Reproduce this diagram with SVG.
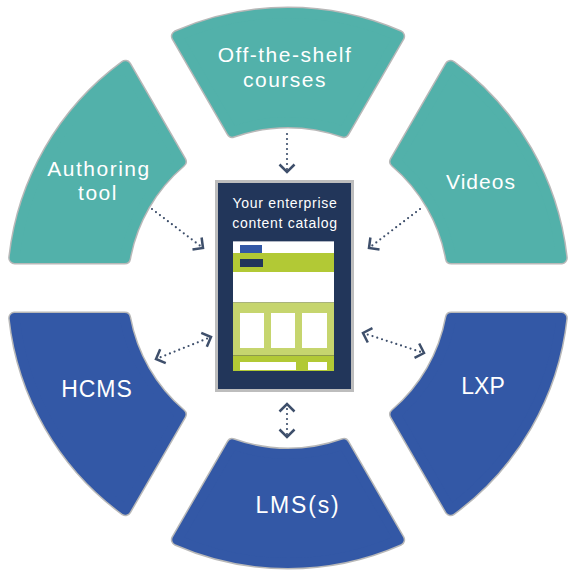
<svg xmlns="http://www.w3.org/2000/svg" xmlns:xlink="http://www.w3.org/1999/xlink" width="575" height="575" viewBox="0 0 575 575">
<style>
.rim{fill:none;stroke:#b8b8b8;stroke-width:13;stroke-linejoin:round}
.teal{fill:#52b1aa;stroke:#52b1aa;stroke-width:10;stroke-linejoin:round}
.blue{fill:#3358a6;stroke:#3358a6;stroke-width:10;stroke-linejoin:round}
.lbl{font-family:"Liberation Sans",Arial,sans-serif;fill:#ffffff;text-anchor:middle}
.s21{font-size:21px;letter-spacing:1.5px}
.s23{font-size:23px;letter-spacing:1px}
.conn{fill:none;stroke:#3e4f6b;stroke-width:2.2;stroke-linecap:round;stroke-dasharray:0 5}
.cat{font-family:"Liberation Sans",Arial,sans-serif;font-size:14px;letter-spacing:0.7px;fill:#ffffff;text-anchor:middle}
</style>
<defs>
<path id="seg" d="M177.30,36.27 A275,275 0 0 1 398.70,36.27 L343.66,131.61 A166,166 0 0 0 232.34,131.61 Z"/>
<marker id="chev" viewBox="-12 -12 24 24" markerWidth="24" markerHeight="24" markerUnits="userSpaceOnUse" orient="auto-start-reverse" refX="0" refY="0">
<path d="M-7.5,-7.5 L0,0 L-7.5,7.5" fill="none" stroke="#3e4f6b" stroke-width="2.5"/>
</marker>
</defs>
<rect width="575" height="575" fill="#ffffff"/>
<g id="node-offtheshelf">
<use xlink:href="#seg" class="rim"/>
<use xlink:href="#seg" class="teal"/>
<text class="lbl s21" x="285" y="62">Off-the-shelf</text>
<text class="lbl s21" x="285" y="87">courses</text>
</g>
<g id="node-videos">
<use xlink:href="#seg" class="rim" transform="rotate(60 288 288)"/>
<use xlink:href="#seg" class="teal" transform="rotate(60 288 288)"/>
<text class="lbl s21" x="481" y="189" style="letter-spacing:1px">Videos</text>
</g>
<g id="node-lxp">
<use xlink:href="#seg" class="rim" transform="rotate(120 288 288)"/>
<use xlink:href="#seg" class="blue" transform="rotate(120 288 288)"/>
<text class="lbl s23" x="483" y="394" style="letter-spacing:0">LXP</text>
</g>
<g id="node-lms">
<use xlink:href="#seg" class="rim" transform="rotate(180 288 288)"/>
<use xlink:href="#seg" class="blue" transform="rotate(180 288 288)"/>
<text class="lbl s23" x="298" y="513" style="letter-spacing:1.8px">LMS(s)</text>
</g>
<g id="node-hcms">
<use xlink:href="#seg" class="rim" transform="rotate(240 288 288)"/>
<use xlink:href="#seg" class="blue" transform="rotate(240 288 288)"/>
<text class="lbl s23" x="97" y="397">HCMS</text>
</g>
<g id="node-authoring">
<use xlink:href="#seg" class="rim" transform="rotate(300 288 288)"/>
<use xlink:href="#seg" class="teal" transform="rotate(300 288 288)"/>
<text class="lbl s21" x="99" y="176">Authoring</text>
<text class="lbl s21" x="98" y="200">tool</text>
</g>
<g id="node-catalog">
<rect x="216.5" y="181.5" width="136" height="209" fill="#22365a" stroke="#bdbdbd" stroke-width="3"/>
<text class="cat" x="285" y="208">Your enterprise</text>
<text class="cat" x="285" y="228">content catalog</text>
<rect x="233" y="241" width="101" height="130" fill="#ffffff"/>
<line x1="233" y1="241.5" x2="334" y2="241.5" stroke="#b0b6c4" stroke-width="1"/>
<rect x="240" y="245" width="22" height="8" fill="#3358a6"/>
<rect x="233" y="253" width="101" height="19" fill="#b2c935"/>
<rect x="240" y="259" width="23" height="8" fill="#22365a"/>
<rect x="233" y="302" width="101" height="53" fill="#c6d56e"/>
<line x1="233" y1="302.5" x2="334" y2="302.5" stroke="#a9b37c" stroke-width="1"/>
<rect x="240" y="313" width="24" height="35" fill="#ffffff"/>
<rect x="271" y="313" width="24" height="35" fill="#ffffff"/>
<rect x="302" y="313" width="25" height="35" fill="#ffffff"/>
<rect x="233" y="355" width="101" height="16" fill="#b2c935"/>
<line x1="233" y1="355.5" x2="334" y2="355.5" stroke="#8c9a4a" stroke-width="1"/>
<rect x="240" y="362" width="56" height="8" fill="#ffffff"/>
<rect x="308" y="362" width="19" height="8" fill="#ffffff"/>
</g>
<g id="connectors">
<line class="conn" x1="287" y1="134" x2="287" y2="172" marker-end="url(#chev)"/>
<line class="conn" x1="152" y1="209" x2="203" y2="248" marker-end="url(#chev)"/>
<line class="conn" x1="420" y1="209" x2="369" y2="248" marker-end="url(#chev)"/>
<line class="conn" x1="156" y1="359" x2="211" y2="337" marker-start="url(#chev)" marker-end="url(#chev)"/>
<line class="conn" x1="363" y1="333" x2="424" y2="353" marker-start="url(#chev)" marker-end="url(#chev)"/>
<line class="conn" x1="287" y1="404" x2="287" y2="437" marker-start="url(#chev)" marker-end="url(#chev)"/>
</g>
</svg>
